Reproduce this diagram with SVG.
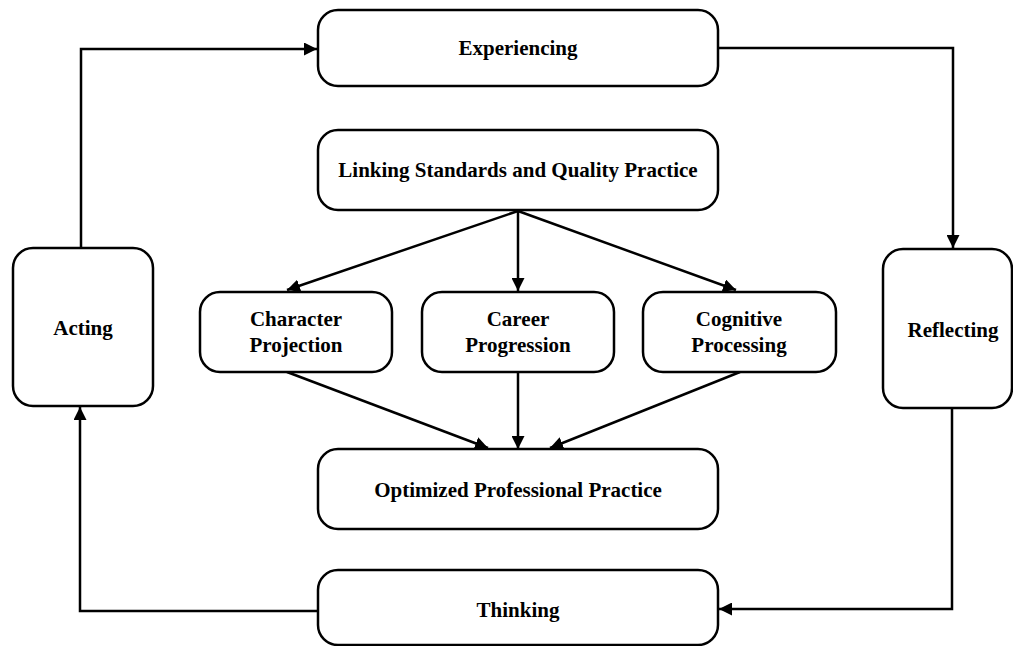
<svg xmlns="http://www.w3.org/2000/svg" width="1013" height="646" viewBox="0 0 1013 646">
  <style>
    .box { fill: #ffffff; stroke: #000000; stroke-width: 2.5; }
    .lbl { font-family: "Liberation Serif", "Times New Roman", serif; font-weight: bold; font-size: 21px; fill: #000000; text-anchor: middle; }
    .edge { fill: none; stroke: #000000; stroke-width: 2.5; marker-end: url(#arrow); }
  </style>
  <defs>
    <marker id="arrow" markerUnits="userSpaceOnUse" markerWidth="13" markerHeight="13" refX="13" refY="6.5" orient="auto">
      <path d="M0,0 L13,6.5 L0,13 z" fill="#000000"/>
    </marker>
  </defs>
  <rect width="1013" height="646" fill="#ffffff"/>

  <g id="connectors">
    <!-- outer cycle -->
    <path class="edge" d="M81,248 L81,49 L317,49"/>
    <path class="edge" d="M718,48 L953,48 L953,248"/>
    <path class="edge" d="M952,408 L952,609 L719,609"/>
    <path class="edge" d="M317,611 L80,611 L80,407"/>
    <!-- fan-out from the linking node -->
    <path class="edge" d="M518,211 L287,290"/>
    <path class="edge" d="M518,211 L518,291"/>
    <path class="edge" d="M518,211 L736,290"/>
    <!-- fan-in to the optimized practice node -->
    <path class="edge" d="M287,372 L488,448"/>
    <path class="edge" d="M518,372 L518,449"/>
    <path class="edge" d="M740,372 L550,448"/>
  </g>

  <g id="experiencing">
    <rect class="box" x="318" y="10" width="400" height="76" rx="20"/>
    <text class="lbl" x="518" y="55">Experiencing</text>
  </g>
  <g id="linking">
    <rect class="box" x="318" y="130" width="400" height="80" rx="20"/>
    <text class="lbl" x="518" y="177">Linking Standards and Quality Practice</text>
  </g>
  <g id="acting">
    <rect class="box" x="13" y="248" width="140" height="158" rx="20"/>
    <text class="lbl" x="83" y="335">Acting</text>
  </g>
  <g id="reflecting">
    <rect class="box" x="883" y="249" width="129" height="159" rx="20"/>
    <text class="lbl" x="953" y="337">Reflecting</text>
  </g>
  <g id="character">
    <rect class="box" x="200" y="292" width="192" height="80" rx="20"/>
    <text class="lbl" x="296" y="326">Character</text>
    <text class="lbl" x="296" y="352">Projection</text>
  </g>
  <g id="career">
    <rect class="box" x="422" y="292" width="192" height="80" rx="20"/>
    <text class="lbl" x="518" y="326">Career</text>
    <text class="lbl" x="518" y="352">Progression</text>
  </g>
  <g id="cognitive">
    <rect class="box" x="643" y="292" width="193" height="80" rx="20"/>
    <text class="lbl" x="739" y="326">Cognitive</text>
    <text class="lbl" x="739" y="352">Processing</text>
  </g>
  <g id="optimized">
    <rect class="box" x="318" y="449" width="400" height="80" rx="20"/>
    <text class="lbl" x="518" y="497">Optimized Professional Practice</text>
  </g>
  <g id="thinking">
    <rect class="box" x="318" y="570" width="400" height="75" rx="20"/>
    <text class="lbl" x="518" y="617">Thinking</text>
  </g>
</svg>
